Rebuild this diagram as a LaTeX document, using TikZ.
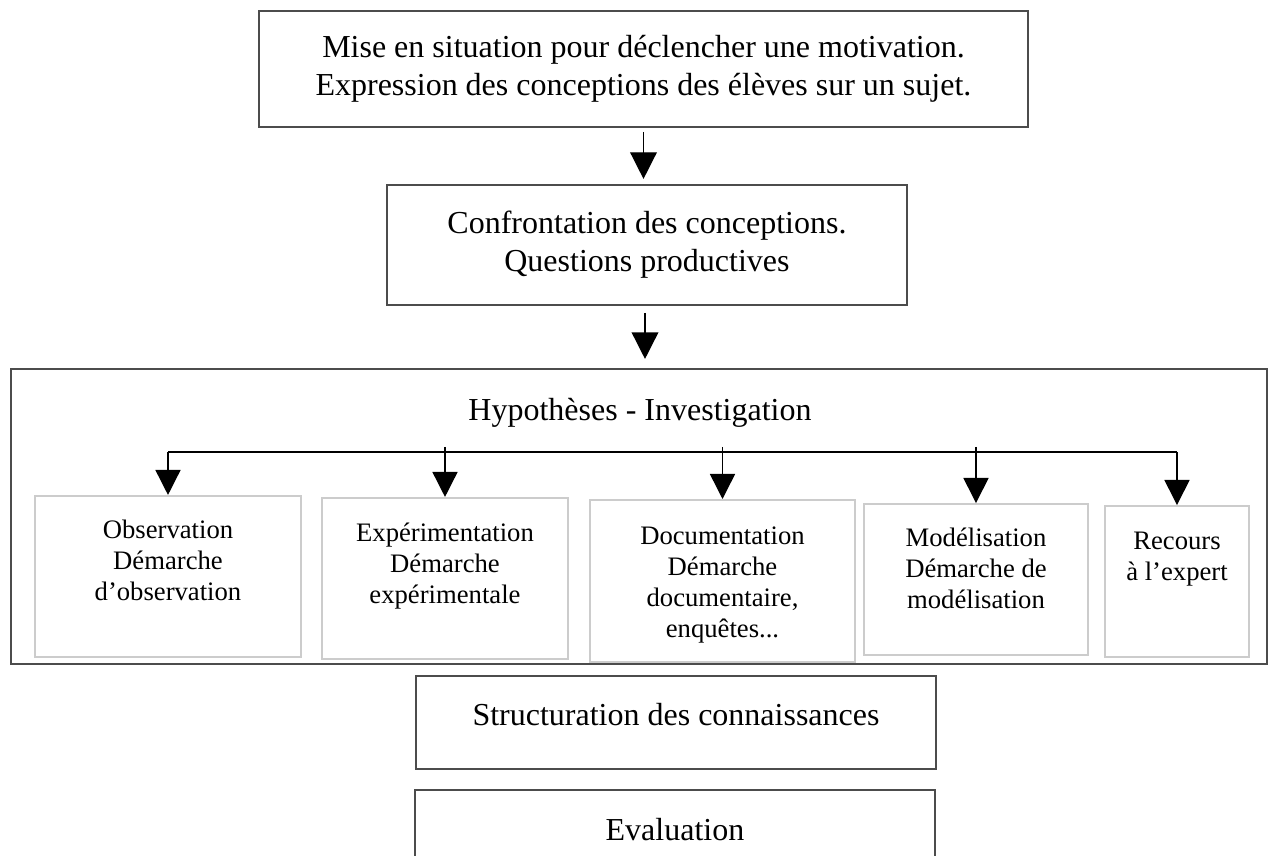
\documentclass[tikz,border=0pt]{standalone}
\usepackage{fontspec}
\setmainfont{Liberation Serif}
\usetikzlibrary{arrows.meta,positioning}

\begin{document}
\begin{tikzpicture}[x=0.375pt,y=-0.375pt,
    darkbox/.style={draw=black!70, line width=0.75pt, inner sep=0pt},
    greybox/.style={draw=black!20, line width=0.75pt, inner sep=0pt},
    bigtext/.style={font=\fontsize{12}{14.25}\selectfont, align=center},
    smalltext/.style={font=\fontsize{10}{11.6}\selectfont, align=center, inner sep=0pt},
    flow/.style={line width=0.55pt, -{Triangle[width=10pt,length=10pt]}},
    branch/.style={line width=0.55pt, -{Triangle[width=9.4pt,length=9.4pt]}}]
    \useasboundingbox (0,0) rectangle (1269,856);

    % main chain
    \node[darkbox, bigtext, minimum width=288.4pt, minimum height=43.5pt] (mise) at (643.5,69)
        {Mise en situation pour déclencher une motivation.\\Expression des conceptions des élèves sur un sujet.};
    \node[darkbox, bigtext, minimum width=195pt, minimum height=45pt] (confront) at (647,245)
        {Confrontation des conceptions.\\Questions productives};
    \node[darkbox, minimum width=471pt, minimum height=110.6pt] (invest) at (639,516.5) {};
    \node[bigtext, inner sep=0pt, anchor=base] (investtitle) at (640,420) {Hypothèses - Investigation};

    \draw[flow, shorten <=1.5pt, shorten >=1.9pt] (mise.south) -- (mise.south |- confront.north);
    \draw[flow, shorten <=2.6pt, shorten >=3.4pt] ([xshift=-0.75pt]confront.south) -- ([xshift=-0.75pt]confront.south |- invest.north);

    % the five ways
    \node[greybox, minimum width=99.75pt, minimum height=60.4pt] (obs) at (168,576.5) {};
    \node[greybox, minimum width=92.25pt, minimum height=60.4pt] (exp) at (445,578.5) {};
    \node[greybox, minimum width=99.4pt, minimum height=60.75pt] (doc) at (722.5,581) {};
    \node[greybox, minimum width=84pt, minimum height=56.6pt] (mod) at (976,579.5) {};
    \node[greybox, minimum width=54pt, minimum height=56.6pt] (rec) at (1177,581.5) {};

    % base = last line
    \node[smalltext, anchor=base] (obstext) at (168,600) {Observation\\Démarche\\d’observation};
    \node[smalltext, anchor=base] (exptext) at (445,603) {Expérimentation\\Démarche\\expérimentale};
    \node[smalltext, anchor=base] (doctext) at (722.5,637) {Documentation\\Démarche\\documentaire,\\enquêtes...};
    \node[smalltext, anchor=base] (modtext) at (976,608) {Modélisation\\Démarche de\\modélisation};
    \node[smalltext, anchor=base] (rectext) at (1177,580) {Recours\\à l’expert};

    \coordinate (busL) at (168,452);
    \coordinate (busR) at (1177,452);
    \draw[line width=0.7pt] (busL) -- (busR);

    \draw[branch] (obs.north |- busL) -- (obs.north);
    \draw[branch] ([yshift=1.9pt]exp.north |- busL) -- (exp.north);
    \draw[branch] ([yshift=1.9pt]doc.north |- busL) -- (doc.north);
    \draw[branch] ([yshift=1.9pt]mod.north |- busL) -- (mod.north);
    \draw[branch] (rec.north |- busR) -- (rec.north);

    % last steps
    \node[darkbox, minimum width=195pt, minimum height=34.9pt] (struct) at (676,722.5) {};
    \node[bigtext, inner sep=0pt, anchor=base] (structtext) at (676,725) {Structuration des connaissances};
    \node[darkbox, minimum width=195pt, minimum height=30pt] (eval) at (675,830) {};
    \node[bigtext, inner sep=0pt, anchor=base] (evaltext) at (675,840) {Evaluation};

\end{tikzpicture}
\end{document}
